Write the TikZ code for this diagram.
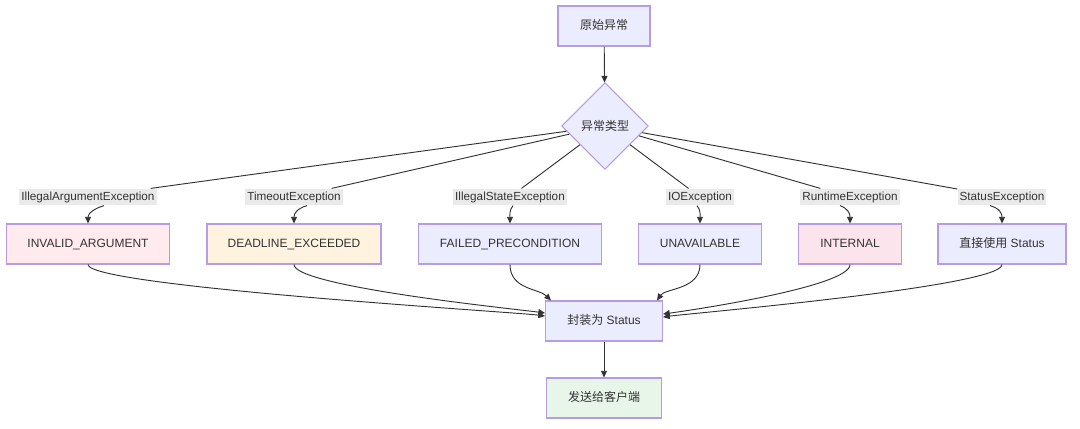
\documentclass[tikz,border=0pt]{standalone}
\usepackage{fontspec}
\setmainfont{Liberation Sans}
\newfontfamily\cjk{Noto Sans CJK SC}
\usetikzlibrary{shapes.geometric,arrows.meta,calc}
\definecolor{bord}{HTML}{B49DE6}
\definecolor{defl}{HTML}{ECECFF}
\definecolor{pinkA}{HTML}{FFEBEE}
\definecolor{orangeA}{HTML}{FFF3E0}
\definecolor{pinkB}{HTML}{FCE4EC}
\definecolor{greenA}{HTML}{E8F5E9}
\definecolor{labbg}{HTML}{EAEAEA}
\definecolor{txt}{HTML}{333333}
\tikzset{
  box/.style={draw=bord, line width=0.8pt, fill=defl, minimum height=30pt, inner sep=2pt, text height=7pt, text depth=1.8pt, text=txt, font=\fontsize{9pt}{11pt}\selectfont},
  dia/.style={diamond, draw=bord, line width=0.8pt, fill=defl, minimum width=65pt, minimum height=65pt, inner sep=0pt, text=txt, font=\fontsize{9pt}{11pt}\selectfont},
  elab/.style={fill=labbg, inner sep=1.5pt, minimum height=12.5pt, text=txt, font=\fontsize{8.8pt}{10pt}\selectfont},
  conn/.style={draw=txt, line width=0.7pt},
  arr/.style={conn, -{Triangle[length=5pt,width=4.5pt]}}
}
\begin{document}
\begin{tikzpicture}[x=0.75pt,y=-0.75pt]
\useasboundingbox[fill=white] (0,0) rectangle (1080,428);
% nodes
\node[box, minimum width=69pt] (src) at (604,26) {\cjk 原始异常};
\node[dia] (d) at (605,126) {\cjk 异常类型};

\node[elab] (l1) at (88,197) {IllegalArgumentException};
\node[elab] (l2) at (294,197) {TimeoutException};
\node[elab] (l3) at (510,197) {IllegalStateException};
\node[elab] (l4) at (700,197) {IOException};
\node[elab] (l5) at (850,197) {RuntimeException};
\node[elab] (l6) at (1002,197) {StatusException};

\node[box, fill=pinkA, minimum width=122pt] (b1) at (88,244) {INVALID\_ARGUMENT};
\node[box, fill=orangeA, minimum width=130.5pt] (b2) at (294,244) {DEADLINE\_EXCEEDED};
\node[box, minimum width=137pt] (b3) at (510,244) {FAILED\_PRECONDITION};
\node[box, minimum width=92pt] (b4) at (700,244) {UNAVAILABLE};
\node[box, fill=pinkB, minimum width=77pt] (b5) at (850,244) {INTERNAL};
\node[box, minimum width=96pt] (b6) at (1002,244) {{\cjk 直接使用} Status};

\node[box, minimum width=87.75pt] (wrap) at (604,321) {{\cjk 封装为} Status};
\node[box, fill=greenA, minimum width=86.25pt] (send) at (604,398) {\cjk 发送给客户端};

% connectors
\draw[arr] (src) -- (d);

\path[conn] (d) -- (l1) (d) -- (l2) (d) -- (l3) (d) -- (l4) (d) -- (l5) (d) -- (l6);

\draw[arr] ($(l1.south)+(16,0)$) .. controls +(-10,3) and +(0,-10) .. (b1.north);
\draw[arr] ($(l2.south)+(13,0)$) .. controls +(-10,3) and +(0,-10) .. (b2.north);
\draw[arr] ($(l3.south)+(3,0)$) .. controls +(-4,5) and +(0,-8) .. (b3.north);
\draw[arr] ($(l4.south)+(-3,0)$) .. controls +(4,5) and +(0,-8) .. (b4.north);
\draw[arr] ($(l5.south)+(-10,0)$) .. controls +(8,3) and +(0,-10) .. (b5.north);
\draw[arr] ($(l6.south)+(-12,0)$) .. controls +(10,3) and +(0,-10) .. (b6.north);

\draw[arr] (b1.south) .. controls +(0,22) and +(-30,-4) .. ($(wrap.west)+(0,-5)$);
\draw[arr] (b2.south) .. controls +(0,22) and +(-30,-4) .. ($(wrap.west)+(0,-8)$);
\draw[arr] (b3.south) .. controls +(0,25) and +(-12,-12) .. ($(wrap.north west)+(6,0)$);
\draw[arr] (b4.south) .. controls +(0,25) and +(8,-12) .. ($(wrap.north east)+(-6,0)$);
\draw[arr] (b5.south) .. controls +(0,22) and +(30,-4) .. ($(wrap.east)+(0,-7)$);
\draw[arr] (b6.south) .. controls +(0,22) and +(30,-4) .. ($(wrap.east)+(0,-4)$);

\draw[arr] (wrap) -- (send);
\end{tikzpicture}
\end{document}
